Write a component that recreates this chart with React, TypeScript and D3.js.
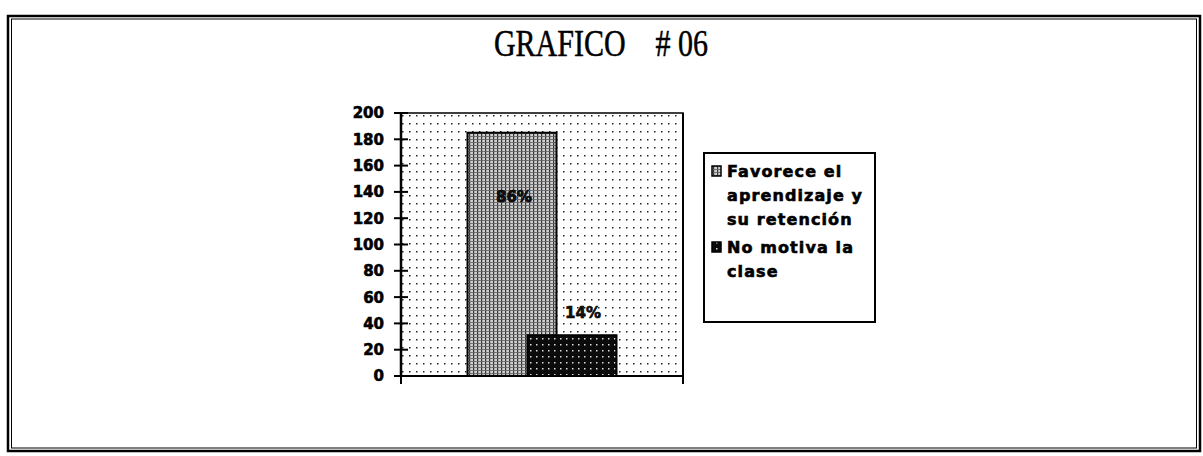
import React from "react";
import * as d3 from "d3";

const categories = ["Grafico 06"];
const seriesNames = ["Favorece el aprendizaje y su retención", "No motiva la clase"];
const seriesValues = [185, 31];
const seriesLabels = ["86%", "14%"];
const legendLines = [["Favorece el", "aprendizaje y", "su retención"], ["No motiva la", "clase"]];
const yTicks = [0, 20, 40, 60, 80, 100, 120, 140, 160, 180, 200];

const W = 1203;
const H = 456;

const App = () => {
  // plot area
  const plot = { left: 401, right: 683, top: 113, bottom: 376 };

  const y = d3.scaleLinear().domain([0, 200]).range([plot.bottom, plot.top]);
  const x = d3.scaleBand().domain(categories).range([plot.left, plot.right]);

  // clustered bars with overlap, like the old spreadsheet chart
  const barW = 89;
  const step = 60;
  const center = (x(categories[0]) || 0) + x.bandwidth() / 2;
  const barX = (i) => center - (barW + step) / 2 + i * step;

  const fills = ["url(#pat1)", "url(#pat2)"];
  const font = "'DejaVu Sans', sans-serif";
  // thicken the bold text a little, the scan is heavy
  const heavy = { stroke: "#000", strokeWidth: 0.6 };

  return (
    <svg width={W} height={H} style={{ position: "absolute", left: 0, top: 0, background: "#fff" }}>
      <defs>
        <pattern id="bgDots" width="7" height="8" patternUnits="userSpaceOnUse">
          <rect width="7" height="8" fill="#fff" />
          <rect x="3" y="3" width="1.5" height="1.5" fill="#222" />
        </pattern>
        <pattern id="pat1" width="4" height="3" patternUnits="userSpaceOnUse">
          <rect width="4" height="3" fill="#cfcfcf" />
          <rect x="1" y="0" width="1.2" height="3" fill="#333" />
          <rect x="0" y="1" width="4" height="0.9" fill="#666" />
        </pattern>
        <pattern id="pat2" width="6" height="6" patternUnits="userSpaceOnUse">
          <rect width="6" height="6" fill="#0b0b0b" />
          <rect x="2" y="2" width="1.5" height="1.5" fill="#ddd" />
        </pattern>
      </defs>

      {/* outer double frame */}
      <rect x={8} y={16} width={1192} height={435} fill="none" stroke="#000" strokeWidth={2.5} />
      <rect x={11.5} y={19} width={1185} height={429} fill="none" stroke="#000" strokeWidth={1} />

      {/* title */}
      <text
        x={601}
        y={56}
        textAnchor="middle"
        fontFamily="'Liberation Serif', 'Times New Roman', serif"
        fontSize={30}
        stroke="#000"
        strokeWidth={0.4}
        transform="translate(601,56) scale(1,1.25) translate(-601,-56)"
        style={{ whiteSpace: "pre" }}
      >
        {"GRAFICO    # 06"}
      </text>

      {/* plot background */}
      <rect
        x={plot.left}
        y={plot.top}
        width={plot.right - plot.left}
        height={plot.bottom - plot.top}
        fill="url(#bgDots)"
        stroke="#000"
        strokeWidth={1.5}
      />

      {/* bars */}
      {seriesValues.map((v, i) => (
        <rect
          key={i}
          x={barX(i)}
          y={y(v)}
          width={barW}
          height={y(0) - y(v)}
          fill={fills[i]}
          stroke="#000"
          strokeWidth={2}
        />
      ))}

      {/* data labels */}
      <text x={barX(0) + barW / 2 + 2} y={202} textAnchor="middle" fontFamily={font} fontWeight="bold" fontSize={15} fill="#111" {...heavy}>
        {seriesLabels[0]}
      </text>
      <text x={barX(1) + barW / 2 + 11} y={y(seriesValues[1]) - 17} textAnchor="middle" fontFamily={font} fontWeight="bold" fontSize={15} fill="#111" {...heavy}>
        {seriesLabels[1]}
      </text>

      {/* y axis */}
      <line x1={plot.left} x2={plot.left} y1={plot.top} y2={plot.bottom} stroke="#000" strokeWidth={2.5} />
      {yTicks.map((t) => (
        <g key={t}>
          <line x1={plot.left - 7} x2={plot.left + 7} y1={y(t)} y2={y(t)} stroke="#000" strokeWidth={2} />
          <text x={plot.left - 17} y={y(t)} dy="0.36em" textAnchor="end" fontFamily={font} fontWeight="bold" fontSize={15} {...heavy}>
            {t}
          </text>
        </g>
      ))}

      {/* x axis */}
      <line x1={plot.left} x2={plot.right} y1={plot.bottom} y2={plot.bottom} stroke="#000" strokeWidth={2} />
      <line x1={plot.left} x2={plot.left} y1={plot.bottom} y2={plot.bottom + 8} stroke="#000" strokeWidth={2} />
      <line x1={plot.right} x2={plot.right} y1={plot.top} y2={plot.bottom + 8} stroke="#000" strokeWidth={2} />

      {/* legend */}
      <rect x={704} y={153} width={171} height={169} fill="#fff" stroke="#000" strokeWidth={2} />
      {legendLines.map((lines, i) => {
        const base = i === 0 ? 177 : 253;
        return (
          <g key={i}>
            <rect x={712} y={base - 11} width={9} height={10} fill={fills[i]} stroke="#000" strokeWidth={1.5}>
              <title>{seriesNames[i]}</title>
            </rect>
            {lines.map((l, j) => (
              <text key={j} x={727} y={base + j * 24} fontFamily={font} fontWeight="bold" fontSize={16} letterSpacing={1.1} {...heavy}>
                {l}
              </text>
            ))}
          </g>
        );
      })}
    </svg>
  );
};

export default App;
